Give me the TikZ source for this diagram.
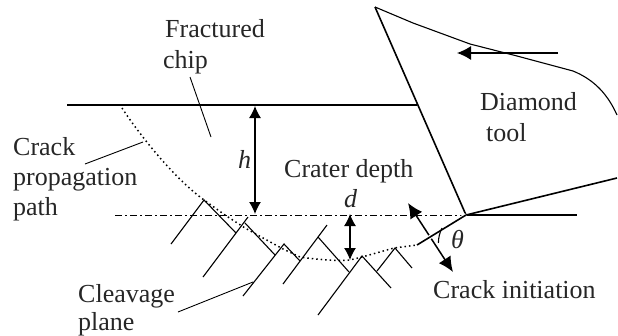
\documentclass[tikz,border=0pt]{standalone}
\usepackage{fontspec}
\setmainfont{Liberation Serif}
\usetikzlibrary{arrows.meta}
\tikzset{
 lbl/.style={inner sep=0pt,anchor=base west,font=\fontsize{26}{30}\selectfont,text=black!85},
 math lbl/.style={inner sep=0pt,anchor=base west,font=\fontsize{26}{30}\selectfont\itshape,text=black!85},
 thick line/.style={line width=1.6pt},
 thin line/.style={line width=1.1pt},
 leader/.style={line width=.9pt},
 tipped/.style={line width=1.3pt,-{Latex[length=14pt,width=14pt]}},
 both tipped/.style={line width=1.2pt,{Latex[length=12pt,width=12pt]}-{Latex[length=12pt,width=12pt]}},
 both big/.style={line width=1.5pt,{Latex[length=15pt,width=14pt]}-{Latex[length=15pt,width=14pt]}},
}
\begin{document}
\begin{tikzpicture}[x=1pt,y=-1pt]
\useasboundingbox (0,0) rectangle (618,335);
% tool
\coordinate (apex) at (375,7);
\coordinate (tip) at (466,215);
\coordinate (rakeend) at (417,105);
\draw[thick line] (apex) -- (tip);
\draw[thin line] (apex) -- (413,23) -- (470,44) -- (517,56) -- (573,71) .. controls (595,80) and (608,95) .. (617,115);
\draw[thick line] (tip) -- (617,178);
% surfaces
\coordinate (surfL) at (67,105);
\draw[thick line] (surfL) -- (rakeend);
\coordinate (cutL) at (115,215);
\coordinate (cutR) at (577,215);
\draw[line width=1pt,dash pattern=on 7pt off 3pt on 2pt off 3pt] (cutL) -- (tip);
\draw[thick line] (tip) -- (cutR);
% motion arrow
\coordinate (mvA) at (558,53);
\coordinate (mvB) at (457,53);
\draw[tipped] (mvA) -- (mvB);
% h, d, crack arrows
\coordinate (hA) at (255,106); \coordinate (hB) at (255,214);
\draw[both tipped] (hA) -- (hB);
\coordinate (dA) at (350,214); \coordinate (dB) at (350,260);
\draw[both tipped] (dA) -- (dB);
\coordinate (cA) at (408,203); \coordinate (cB) at (453,272);
\draw[both big] (cA) -- (cB);
% crack
\coordinate (crackEnd) at (417,245);
\draw[line width=4pt,white] (tip) -- (crackEnd);
\draw[thick line] (tip) -- (crackEnd);
\draw[line width=1.5pt,dash pattern=on 1.5pt off 3pt] (122,108) .. controls (135,128) and (170,175) .. (204,200) -- (225,215) -- (245,228) -- (283,249) -- (300,257) .. controls (320,260) and (340,261) .. (350,260) -- (362,257) -- (394,248) -- (crackEnd);
\draw[thin line] (442,228) arc[start angle=207,end angle=180,radius=33];
% cleavage planes
\draw[thin line] (171,244) -- (204,200) -- (236,233);
\draw[thin line] (248,217) -- (203,277);
\draw[thin line] (245,223) -- (275,255);
\draw[thin line] (243,296) -- (284,244) -- (300,261);
\draw[thin line] (327,225) -- (283,284);
\draw[thin line] (318,237) -- (349,272);
\draw[thin line] (318,315) -- (362,256) -- (391,288);
\draw[thin line] (377,271) -- (395,248) -- (412,268);
% leaders
\coordinate (lf1) at (190,77); \coordinate (lf2) at (211,137);
\draw[leader] (lf1) -- (lf2);
\coordinate (lc1) at (85,164); \coordinate (lc2) at (143,142);
\draw[leader] (lc1) -- (lc2);
\coordinate (lp1) at (178,312); \coordinate (lp2) at (253,282);
\draw[leader] (lp1) -- (lp2);
% labels
\node[lbl] (t1) at (165,37) {Fractured};
\node[lbl] (t2) at (163,68) {chip};
\node[lbl] (t3) at (13,155) {Crack};
\node[lbl] (t4) at (13,185) {propagation};
\node[lbl] (t5) at (13,215) {path};
\node[lbl] (t6) at (480,110) {Diamond};
\node[lbl] (t7) at (486,141) {tool};
\node[lbl] (t8) at (284,177) {Crater depth};
\node[math lbl] (t9) at (238,168) {h};
\node[math lbl] (t10) at (344,207) {d};
\node[math lbl] (t11) at (451,248) {θ};
\node[lbl] (t12) at (433,298) {Crack initiation};
\node[lbl] (t13) at (78,302) {Cleavage};
\node[lbl] (t14) at (78,330) {plane};
\end{tikzpicture}
\end{document}
